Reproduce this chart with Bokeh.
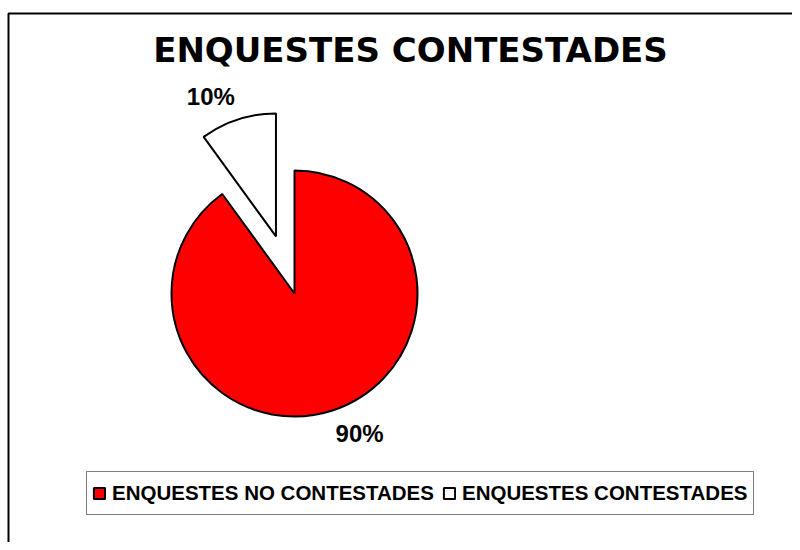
import numpy as np
from bokeh.plotting import figure
from bokeh.models import ColumnDataSource, Range1d, Legend, LegendItem
from bokeh.core.properties import value
from bokeh.embed import file_html
from bokeh.resources import INLINE

# ---- data ----
title_text = "ENQUESTES CONTESTADES"
categories = ["ENQUESTES NO CONTESTADES", "ENQUESTES CONTESTADES"]
percentages = [90, 10]
colors = ["#FF0000", "#FFFFFF"]
exploded = [0, 1]

# ---- layout constants (frame pixels, origin bottom-left) ----
W, H = 792, 542
cx, cy = 294, 249          # pie centre
R = 123                    # pie radius
explode_dist = 60
label_gap = 10

vals = np.array(percentages, dtype=float)
fracs = vals / vals.sum()
angles_deg = 360 * fracs
# slices start at 12 o'clock; the last category sits counter-clockwise of it
start = 90.0
s_arr = np.zeros(len(vals)); e_arr = np.zeros(len(vals))
for i in list(range(len(vals)))[::-1]:
    s_arr[i] = start
    e_arr[i] = start + angles_deg[i]
    start = e_arr[i]
mid = np.deg2rad((s_arr + e_arr) / 2)
ox = cx + np.array(exploded) * explode_dist * np.cos(mid)
oy = cy + np.array(exploded) * explode_dist * np.sin(mid)
lx = ox + (R + label_gap) * np.cos(mid)
ly = oy + (R + label_gap) * np.sin(mid)
aligns = ["left" if np.cos(m) >= 0 else "right" for m in mid]
baselines = ["bottom" if np.sin(m) >= 0 else "top" for m in mid]

src = ColumnDataSource(dict(
    x=ox, y=oy, start=np.deg2rad(s_arr), end=np.deg2rad(e_arr),
    color=colors, label=categories,
    lx=lx, ly=ly, txt=[f"{v:.0f}%" for v in percentages],
    align=aligns, base=baselines,
))

p = figure(width=W, height=H, output_backend="svg", toolbar_location=None,
           x_range=Range1d(0, W), y_range=Range1d(0, H), min_border=0,
           outline_line_color=None, background_fill_color="white")
p.xaxis.visible = False
p.yaxis.visible = False
p.grid.visible = False

# chart area border (extends beyond the window on right/bottom)
p.quad(left=[8], right=[W + 50], top=[H - 13], bottom=[-50],
       fill_color=None, line_color="black", line_width=2)

# title
p.text(x=[410], y=[H - 49], text=[title_text],
       text_font=value("DejaVu Sans"), text_font_style="bold",
       text_font_size="34px", text_align="center", text_baseline="alphabetic",
       text_color="black")

wedges = p.wedge(x="x", y="y", radius=R, start_angle="start", end_angle="end",
                 fill_color="color", line_color="black", line_width=2, source=src)

p.text(x="lx", y="ly", text="txt", source=src,
       text_font=value("Liberation Sans"), text_font_style="bold",
       text_font_size="24px", text_align="align", text_baseline="base",
       text_color="black")

items = [LegendItem(label=categories[i], renderers=[wedges], index=i) for i in range(len(categories))]
legend = Legend(items=items, orientation="horizontal", location=(86, H - 515),
                glyph_width=14, glyph_height=14, label_standoff=6, spacing=8,
                padding=5, margin=0, label_height=32,
                label_text_font="Liberation Sans", label_text_font_style="bold",
                label_text_font_size="20.5px", label_text_color="black",
                border_line_color="black", border_line_width=1,
                background_fill_color="white", background_fill_alpha=1.0)
p.add_layout(legend, "center")

open("out.html", "w").write(file_html(p, INLINE))
